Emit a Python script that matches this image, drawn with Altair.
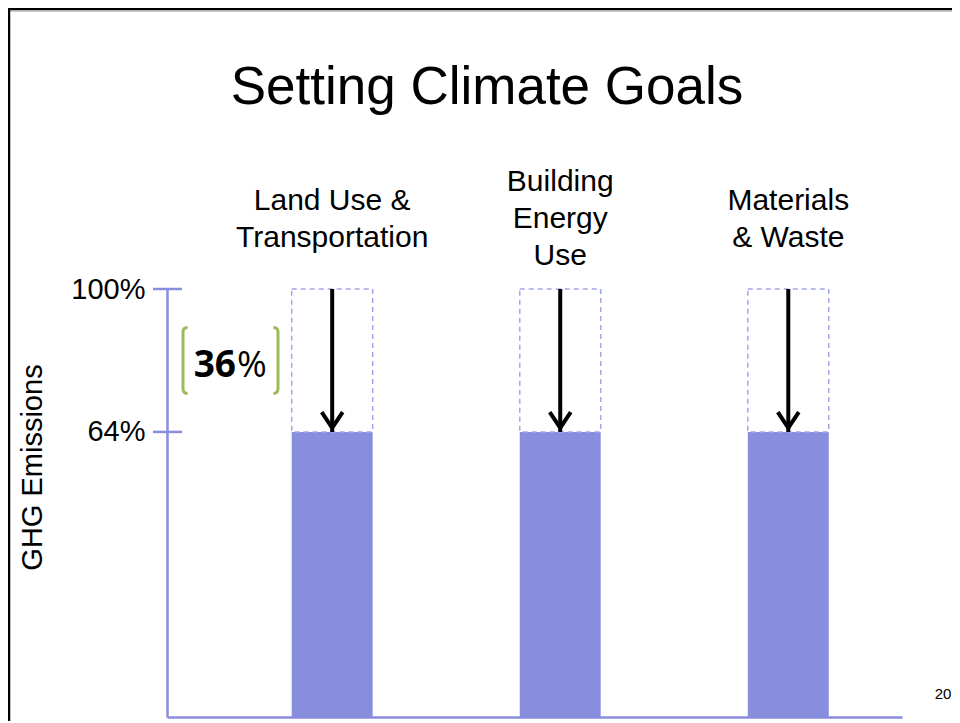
import altair as alt
import pandas as pd

# ---- data ----
title_text = ["Setting Climate Goals"]
categories = ["Land Use & Transportation", "Building Energy Use", "Materials & Waste"]
category_labels = ["Land Use &\nTransportation", "Building\nEnergy\nUse", "Materials\n& Waste"]
baseline_pct = [100, 100, 100]
target_pct = [64, 64, 64]
tick_values = [100, 64]
y_title = "GHG Emissions"
page_number = ["20"]

df = pd.DataFrame({"category": categories, "label": category_labels,
                   "baseline": baseline_pct, "target": target_pct})
df["reduction"] = df["baseline"] - df["target"]
df["mid"] = (df["baseline"] + df["target"]) / 2
ticks_df = pd.DataFrame({"v": tick_values})
page_df = pd.DataFrame({"t": page_number})
title_df = pd.DataFrame({"t": title_text})

W, H = 735, 428
Y_MIN = -7.8  # bottom of the axis lies a little below 0 on the slide
PURPLE = "#898DDE"
DASH = "#A4A7EA"
GREEN = "#9BBB59"
FONT = "Liberation Sans"
LH = 37

x_scale = alt.Scale(paddingInner=0.645, paddingOuter=0.434, align=0.63)
y_scale = alt.Scale(domain=[Y_MIN, 100], nice=False, zero=False)
x_axis = alt.Axis(title=None, labels=False, ticks=False, grid=False,
                  domainColor=PURPLE, domainWidth=2.5)
y_axis = alt.Axis(values=tick_values, labelExpr="datum.value + '%'", ticks=False, grid=False,
                  domainColor=PURPLE, domainWidth=2.5, labelFont=FONT, labelFontSize=29,
                  labelColor="black", labelPadding=22, title=y_title, titleFont=FONT,
                  titleFontSize=29, titleFontWeight="normal", titleColor="black",
                  titleX=-135, titleY=178, titleAngle=270, titleAlign="center",
                  titleBaseline="middle")


def xf():
    return alt.X("category:N", sort=categories, scale=x_scale, axis=x_axis)


def yf(field):
    return alt.Y(f"{field}:Q", scale=y_scale, axis=y_axis)


base = alt.Chart(df)

bars = base.mark_bar(color=PURPLE).encode(
    x=xf(), y=yf("target"), y2=alt.Y2(datum=Y_MIN))

outline = base.mark_bar(fillOpacity=0, stroke=DASH, strokeDash=[5, 4], strokeWidth=1.5).encode(
    x=xf(), y=yf("baseline"), y2="target:Q")

arrow_line = base.mark_rule(color="black", strokeWidth=4).encode(
    x=xf(), y=yf("baseline"), y2="target:Q")

arrow_head = base.mark_point(shape="M-1,-1.5L0,0L1,-1.5", size=440, filled=False,
                             stroke="black", strokeWidth=4, opacity=1, yOffset=-4).encode(
    x=xf(), y=yf("target"))

labels_base = base.transform_calculate(nl="length(split(datum.label, '\\n'))")
cat_labels2 = labels_base.transform_filter("datum.nl == 2").mark_text(
    font=FONT, fontSize=30, lineHeight=LH, baseline="middle", lineBreak="\n",
    color="black", dy=-LH / 2).encode(x=xf(), y=alt.value(-70), text="label:N")
cat_labels3 = labels_base.transform_filter("datum.nl == 3").mark_text(
    font=FONT, fontSize=30, lineHeight=LH, baseline="middle", lineBreak="\n",
    color="black", dy=-LH).encode(x=xf(), y=alt.value(-70), text="label:N")

first = base.transform_filter(alt.datum.category == categories[0])

bracket_l = first.mark_point(shape="M0.14,-1Q0,-1 0,-0.86L0,0.86Q0,1 0.14,1", size=4356,
                             filled=False, stroke=GREEN, strokeWidth=3, opacity=1).encode(
    x=alt.value(16), y=yf("mid"))
bracket_r = first.mark_point(shape="M-0.14,-1Q0,-1 0,-0.86L0,0.86Q0,1 -0.14,1", size=4356,
                             filled=False, stroke=GREEN, strokeWidth=3, opacity=1).encode(
    x=alt.value(111), y=yf("mid"))

pct_num = first.mark_text(align="right", baseline="alphabetic", dy=17, font="Open Sans",
                          fontWeight="bold", fontSize=37, color="black").encode(
    x=alt.value(69), y=yf("mid"), text="reduction:Q")
pct_sign = first.mark_text(align="left", baseline="alphabetic", dy=17, font="Open Sans",
                           fontSize=36, color="black").encode(
    x=alt.value(70), y=yf("mid"), text=alt.value("%"))

tick_rules = alt.Chart(ticks_df).mark_rule(color=PURPLE, strokeWidth=2.5).encode(
    y=alt.Y("v:Q", scale=y_scale, axis=y_axis), x=alt.value(-14), x2=alt.value(15))

title_txt = alt.Chart(title_df).mark_text(font=FONT, fontSize=53, color="black",
                                          align="center", baseline="alphabetic").encode(
    x=alt.value(320), y=alt.value(-185), text="t:N")

page_txt = alt.Chart(page_df).mark_text(font=FONT, fontSize=15, color="black").encode(
    x=alt.value(776), y=alt.value(405), text="t:N")

border_top = alt.Chart(page_df).mark_rule(color="black", strokeWidth=2.5).encode(
    x=alt.value(-163), x2=alt.value(800), y=alt.value(-280))
border_shadow = alt.Chart(page_df).mark_rule(color="#9a9a9a", strokeWidth=1.2).encode(
    x=alt.value(-158), x2=alt.value(800), y=alt.value(-278))
border_left = alt.Chart(page_df).mark_rule(color="black", strokeWidth=2.5).encode(
    x=alt.value(-158), y=alt.value(-281), y2=alt.value(H + 10))

chart = alt.layer(
    bars, outline, arrow_line, arrow_head, cat_labels2, cat_labels3, bracket_l, bracket_r,
    pct_num, pct_sign, tick_rules, title_txt, page_txt, border_top, border_shadow, border_left
).properties(
    width=W, height=H,
    autosize=alt.AutoSizeParams(type="none"),
    padding={"left": 159, "top": 281, "right": 50, "bottom": 4},
).configure_view(stroke="transparent")

chart.save("out.html", embed_options={"renderer": "svg", "actions": False})
